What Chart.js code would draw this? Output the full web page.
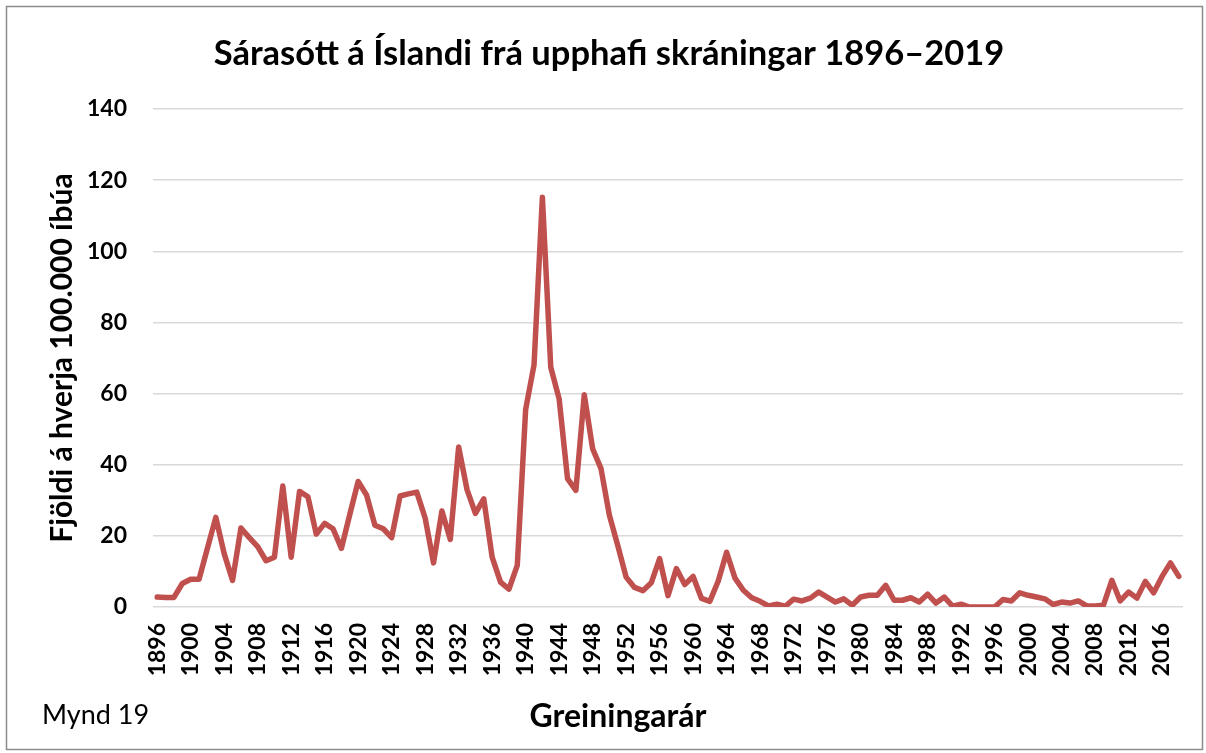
<!DOCTYPE html>
<html>
<head>
<meta charset="utf-8">
<script src="https://cdn.jsdelivr.net/npm/chart.js@4"></script>
<style>
  html, body { margin: 0; padding: 0; background: #fff; }
  #wrap { width: 1206px; height: 753px; }
</style>
</head>
<body>
<div id="wrap"><canvas id="c" width="1206" height="753"></canvas></div>
<script>
const years = [
  1896,1897,1898,1899,1900,1901,1902,1903,1904,1905,1906,1907,1908,1909,1910,
  1911,1912,1913,1914,1915,1916,1917,1918,1919,1920,1921,1922,1923,1924,1925,
  1926,1927,1928,1929,1930,1931,1932,1933,1934,1935,1936,1937,1938,1939,1940,
  1941,1942,1943,1944,1945,1946,1947,1948,1949,1950,1951,1952,1953,1954,1955,
  1956,1957,1958,1959,1960,1961,1962,1963,1964,1965,1966,1967,1968,1969,1970,
  1971,1972,1973,1974,1975,1976,1977,1978,1979,1980,1981,1982,1983,1984,1985,
  1986,1987,1988,1989,1990,1991,1992,1993,1994,1995,1996,1997,1998,1999,2000,
  2001,2002,2003,2004,2005,2006,2007,2008,2009,2010,2011,2012,2013,2014,2015,
  2016,2017,2018
];
const incidence = [
  2.8,2.7,2.7,6.6,7.8,7.8,16.5,25.2,15,7.5,22.2,19.5,17,13,14,
  34,14,32.5,31,20.5,23.5,22,16.5,26,35.3,31.5,23,22,19.5,31.2,
  31.8,32.3,25,12.4,27,19,45,33,26.3,30.4,14,7,5,11.7,55.5,
  68,115.2,67.4,58.5,36.1,32.8,59.7,44.5,38.9,25.8,17.3,8.4,5.5,4.6,6.8,
  13.6,3.2,10.8,6.3,8.6,2.4,1.6,7.3,15.4,8.1,4.7,2.6,1.6,0.3,0.8,
  0.2,2.2,1.7,2.5,4.2,2.8,1.4,2.3,0.5,2.8,3.3,3.3,6.1,1.9,1.9,
  2.6,1.4,3.6,1.1,2.8,0.2,0.8,0,0,0,0,2.1,1.7,4,3.3,
  2.8,2.3,0.7,1.4,1.1,1.7,0.3,0.3,0.5,7.5,1.7,4.2,2.5,7.2,4,
  8.6,12.4,8.6
];
const yTicks = [0,20,40,60,80,100,120,140];
const labelEvery = 4;
const titleText = 'Sárasótt á Íslandi frá upphafi skráningar 1896–2019';
const yTitle = 'Fjöldi á hverja 100.000 íbúa';
const xTitle = 'Greiningarár';
const figLabel = 'Mynd 19';

const FONT = 'Lato, "Open Sans", "DejaVu Sans", sans-serif';

const decor = {
  id: 'decor',
  beforeDraw(chart) {
    const ctx = chart.ctx;
    ctx.save();
    ctx.fillStyle = '#ffffff';
    ctx.fillRect(0, 0, chart.width, chart.height);
    ctx.restore();
  },
  afterDraw(chart) {
    const ctx = chart.ctx;
    ctx.save();
    ctx.strokeStyle = '#8c8c8c';
    ctx.lineWidth = 1.5;
    ctx.strokeRect(6.5, 6.5, 1196, 743);
    ctx.fillStyle = '#000';
    ctx.textBaseline = 'middle';
    ctx.textAlign = 'center';
    ctx.font = 'bold 32px ' + FONT;
    ctx.fillText(xTitle, 618, 717);
    ctx.textAlign = 'left';
    ctx.font = '27px ' + FONT;
    ctx.fillText(figLabel, 42, 715);
    ctx.restore();
  }
};

new Chart(document.getElementById('c'), {
  type: 'line',
  data: {
    labels: years,
    datasets: [{
      data: incidence,
      borderColor: '#C0504D',
      backgroundColor: '#C0504D',
      borderWidth: 5.5,
      pointRadius: 0,
      tension: 0,
      borderJoinStyle: 'round',
      borderCapStyle: 'round',
      fill: false
    }]
  },
  options: {
    responsive: false,
    devicePixelRatio: 1,
    animation: false,
    layout: { padding: { top: 0, left: 12, right: 0, bottom: 0 } },
    plugins: {
      legend: { display: false },
      tooltip: { enabled: false },
      title: {
        display: true,
        text: titleText,
        color: '#000',
        font: { family: FONT, size: 34.5, weight: 'bold' },
        padding: { top: 33, bottom: 34.6 }
      }
    },
    scales: {
      x: {
        type: 'category',
        offset: true,
        grid: { display: false, drawTicks: false },
        border: { display: false },
        ticks: {
          autoSkip: false,
          minRotation: 90,
          maxRotation: 90,
          padding: 16,
          color: '#000',
          font: { family: FONT, size: 23, weight: 'bold' },
          callback: function(value, index) {
            const y = years[index];
            return (y - years[0]) % labelEvery === 0 ? String(y) : '';
          }
        },
        afterFit(scale) {
          scale.height = 146;
          scale.paddingLeft = 0;
          scale.paddingRight = 23;
        }
      },
      y: {
        min: yTicks[0],
        max: yTicks[yTicks.length - 1],
        afterBuildTicks(scale) { scale.ticks = yTicks.map(v => ({ value: v })); },
        grid: { color: '#d9d9d9', lineWidth: 1.5, drawTicks: false },
        border: { display: false },
        ticks: {
          padding: 26,
          color: '#000',
          font: { family: FONT, size: 23, weight: 'bold' }
        },
        title: {
          display: true,
          text: yTitle,
          color: '#000',
          font: { family: FONT, size: 30, weight: 'bold' },
          padding: { top: 32, bottom: 0 }
        },
        afterFit(scale) { scale.width = 141; }
      }
    }
  },
  plugins: [decor]
});
</script>
</body>
</html>
